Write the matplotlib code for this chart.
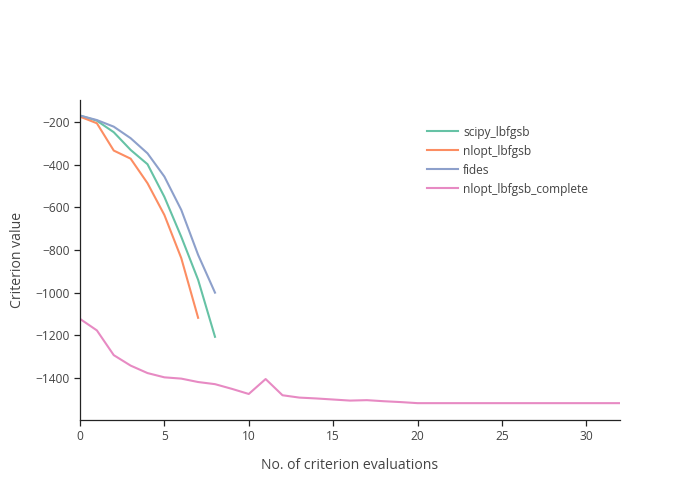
import matplotlib
matplotlib.use("Agg")
import matplotlib.pyplot as plt

plt.rcParams['font.family'] = ['Open Sans', 'DejaVu Sans']
plt.rcParams['axes.unicode_minus'] = True

# criterion value per evaluation
scipy_lbfgsb = [-170, -194, -248, -331, -398, -551, -738, -940, -1207]
nlopt_lbfgsb = [-175, -206, -334, -372, -487, -636, -838, -1118]
fides = [-170, -191, -222, -276, -347, -456, -612, -823, -1000]
nlopt_complete = [-1123, -1177, -1293, -1342, -1377, -1397, -1403, -1419, -1429,
                  -1451, -1475, -1405, -1481, -1492, -1496, -1501, -1506, -1504,
                  -1509, -1513, -1518, -1518, -1518, -1518, -1518, -1518, -1518,
                  -1518, -1518, -1518, -1518, -1518, -1518]

series = [("scipy_lbfgsb", scipy_lbfgsb, "#66c2a5"),
          ("nlopt_lbfgsb", nlopt_lbfgsb, "#fc8d62"),
          ("fides", fides, "#8da0cb"),
          ("nlopt_lbfgsb_complete", nlopt_complete, "#e78ac3")]

fig = plt.figure(figsize=(7, 5), dpi=100)
ax = fig.add_axes([80/700, 80/500, 540/700, 320/500])

for name, vals, col in series:
    ax.plot(range(len(vals)), vals, color=col, lw=1.5, label=name)

ax.set_xlim(0, 32)
ax.set_ylim(-1597, -97)
ax.set_xticks([0, 5, 10, 15, 20, 25, 30])
ax.set_yticks([-1400, -1200, -1000, -800, -600, -400, -200])

for s in ["top", "right"]:
    ax.spines[s].set_visible(False)
for s in ["left", "bottom"]:
    ax.spines[s].set_color("#242424")
    ax.spines[s].set_linewidth(0.9)
ax.tick_params(colors="#242424", labelcolor="#444444", labelsize=8.64, length=4, width=0.9)

ax.set_xlabel("No. of criterion evaluations", fontsize=10.08, color="#444444", labelpad=10.5)
ax.set_ylabel("Criterion value", fontsize=10.08, color="#444444", labelpad=7)

leg = ax.legend(loc="upper left", bbox_to_anchor=(0.643, 0.92), frameon=False,
                fontsize=8.64, handlelength=2.6, handletextpad=0.4, labelspacing=0.5,
                borderaxespad=0, borderpad=0)
for t in leg.get_texts():
    t.set_color("#444444")

fig.savefig("out.png", dpi=100)
